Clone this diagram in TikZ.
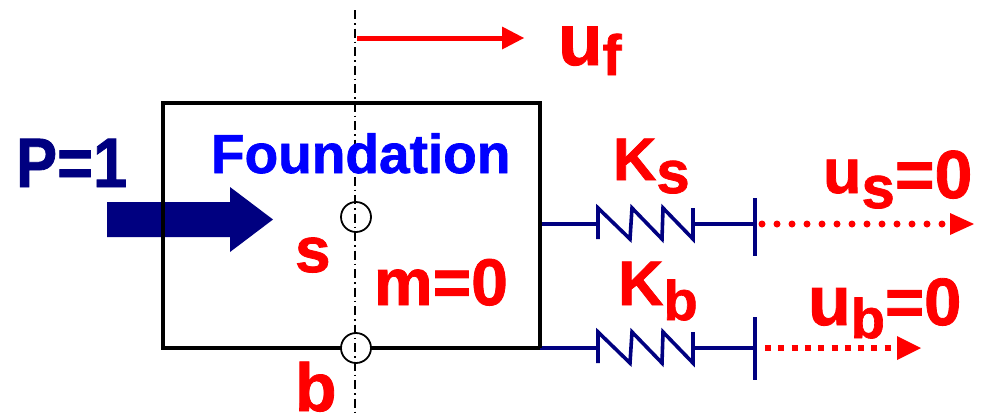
\documentclass[tikz,border=0pt]{standalone}
\usepackage{fontspec}
\setmainfont{Liberation Sans}[BoldFeatures={FakeBold=1.2}]
\definecolor{navyb}{RGB}{0,0,128}
\definecolor{redt}{RGB}{255,0,0}
\definecolor{bluet}{RGB}{0,0,255}
\newcommand{\fsz}[1]{\fontsize{#1}{#1}\selectfont}
\begin{document}
\begin{tikzpicture}[x=1pt,y=-1pt,
  lbl/.style={inner sep=0pt, outer sep=0pt, anchor=base west, font=\bfseries},
  springline/.style={draw=navyb, line width=3.6pt, line join=miter},
  holecircle/.style={circle, draw=black, fill=white, line width=1.8pt, minimum size=30pt, inner sep=0pt},
  axisline/.style={black, line width=1.3pt, dash pattern=on 9pt off 4pt on 1.5pt off 4pt},
  redhead/.style={fill=redt, draw=none}]
\useasboundingbox (0,0) rectangle (984,416);

% big blue load arrow
\fill[navyb] (107,202) -- (230,202) -- (230,187) -- (273,219.5) -- (230,252) -- (230,237) -- (107,237) -- cycle;

% foundation box
\node[draw=black, line width=4pt, minimum width=377pt, minimum height=245pt, inner sep=0pt, outer sep=0pt] (box) at (351.5,225.5) {};

% spring coordinates
\coordinate (ks1) at (598,224);
\coordinate (ks2) at (693,224);
\coordinate (ps) at (755,224);
\coordinate (kb1) at (598,348);
\coordinate (kb2) at (693,348);
\coordinate (pb) at (755,348);

% upper spring
\draw[springline] (box.east |- ks1) -- (ks1);
\draw[springline] (ks1) ++(0,15) -- ++(0,-31) -- ++(32,31) -- ++(2,-31) -- ++(30,31) -- ++(1,-31) -- ++(30,31) -- ++(0,-31);
\draw[springline] (ks2) -- (ps);
\draw[springline] (ps) ++(0,-26) -- ++(0,58);

% lower spring
\draw[springline] (box.south east |- kb1) -- (kb1);
\draw[springline] (kb1) ++(0,15) -- ++(0,-31) -- ++(32,31) -- ++(2,-31) -- ++(30,31) -- ++(1,-31) -- ++(30,31) -- ++(0,-31);
\draw[springline] (kb2) -- (pb);
\draw[springline] (pb) ++(0,-31) -- ++(0,63);

% redraw box edge on top
\draw[black, line width=4pt] (box.north east) -- (box.south east);

% dotted red arrows
\coordinate (usA) at (762,224);
\coordinate (usB) at (952,224);
\coordinate (usT) at (974,224);
\draw[redt, line width=7pt, line cap=round, dash pattern=on 0pt off 15pt] (usA) -- (usB);
\fill[redhead] (usT) -- ++(-24,-11) -- ++(0,22) -- cycle;

\coordinate (ubA) at (765,348);
\coordinate (ubB) at (897,348);
\coordinate (ubT) at (921,348);
\draw[redt, line width=6pt, dash pattern=on 6pt off 7.3pt] (ubA) -- (ubB);
\fill[redhead] (ubT) -- ++(-24,-12) -- ++(0,24) -- cycle;

% top red arrow
\coordinate (ufA) at (357,38);
\coordinate (ufB) at (503,38);
\coordinate (ufT) at (524,38);
\draw[redt, line width=5pt] (ufA) -- (ufB);
\fill[redhead] (ufT) -- ++(-22,-11.5) -- ++(0,23) -- cycle;

% circles
\node[holecircle] (s) at (356,217) {};
\node[holecircle] (b) at (356,348) {};

% axis
\coordinate (axtop) at (355,10);
\coordinate (axbot) at (355,416);
\draw[axisline] (axtop) -- (axbot);

% labels
\node[lbl, text=bluet] (found) at (211,173) {\fsz{55}Foundation};
\node[lbl, text=navyb] (P) at (16,187) {\scalebox{0.88}[1]{\fsz{70}P=1}};
\node[lbl, text=redt] (slbl) at (295,272) {\fsz{64}s};
\node[lbl, text=redt] (mlbl) at (374,305) {\fsz{66}m=0};
\node[lbl, text=redt] (blbl) at (295,411) {\fsz{68}b};
\node[lbl, text=redt] (Ks) at (613,180) {\fsz{60}K\raisebox{-13pt}{s}};
\node[lbl, text=redt] (Kb) at (618,305) {\fsz{63}K\raisebox{-15pt}{\fsz{56}b}};
\node[lbl, text=redt] (us) at (823,193) {\fsz{63}u\raisebox{-15pt}{\fsz{60}s}\raisebox{-5pt}{\fsz{68}=0}};
\node[lbl, text=redt] (ub) at (808,325) {\fsz{70}u\raisebox{-13pt}{\fsz{56}b}\fsz{67}=0};
\node[lbl, text=redt] (uf) at (558,65) {\fsz{73}u\raisebox{-10pt}{\fsz{57}f}};
\end{tikzpicture}
\end{document}
